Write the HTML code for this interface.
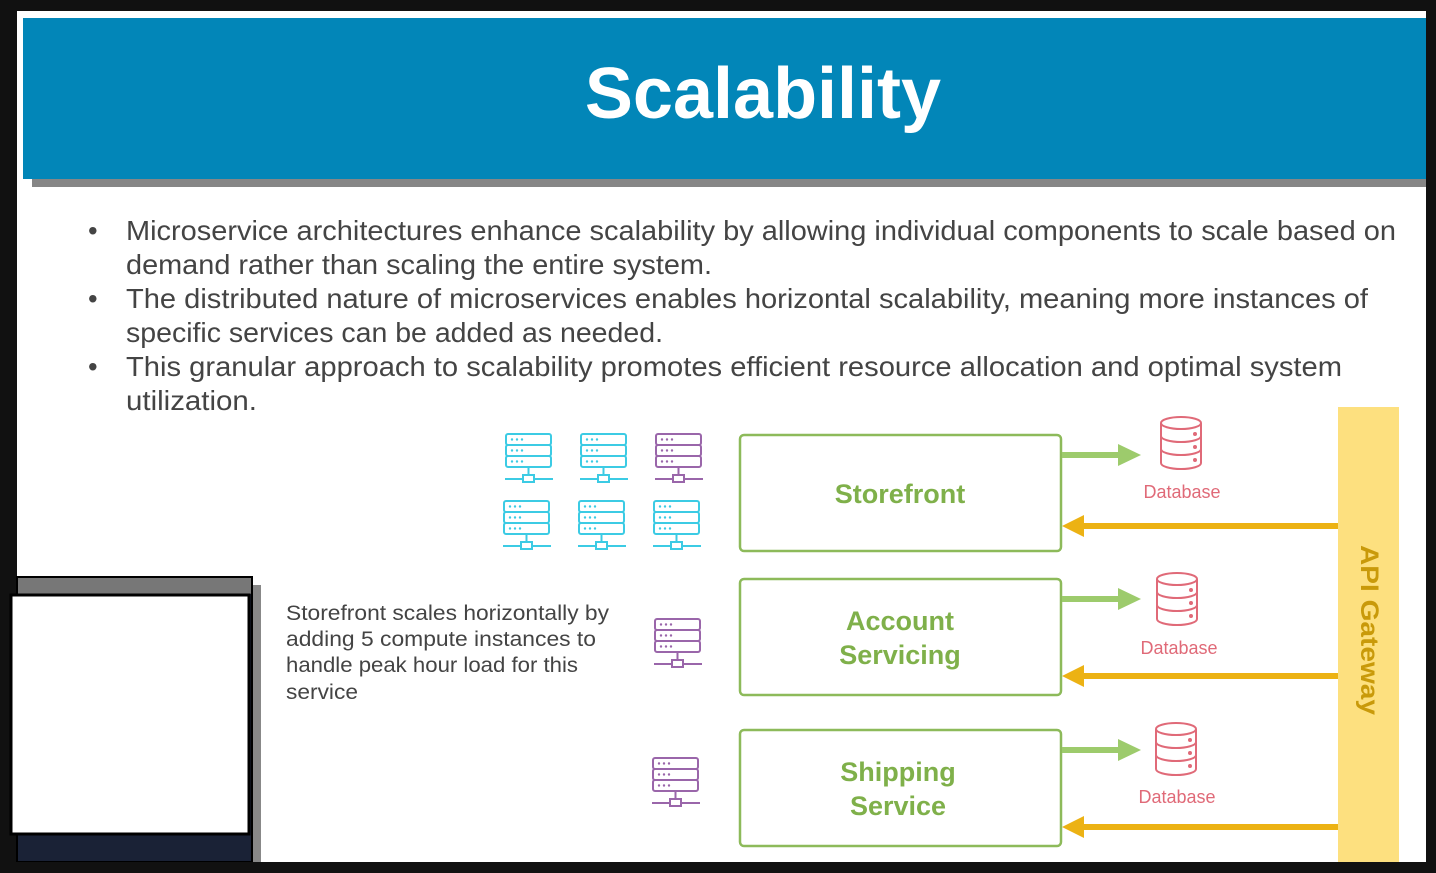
<!DOCTYPE html>
<html><head><meta charset="utf-8"><style>
html,body{margin:0;padding:0;background:#111;}
body{width:1436px;height:873px;overflow:hidden;position:relative;font-family:"Liberation Sans",sans-serif;}
</style></head><body>
<svg width="1436" height="873" viewBox="0 0 1436 873" xmlns="http://www.w3.org/2000/svg" style="position:absolute;left:0;top:0">
<defs>
<g id="srv" fill="none" stroke-width="2">
  <rect x="1" y="1" width="45" height="11" rx="2"/>
  <rect x="1" y="12" width="45" height="11" rx="2"/>
  <rect x="1" y="23" width="45" height="11" rx="2"/>
  <line x1="23.5" y1="34" x2="23.5" y2="42"/>
  <line x1="0" y1="46" x2="48" y2="46"/>
  <rect x="18" y="42" width="11" height="7" fill="#fff"/>
</g>
<g id="dots">
  <circle cx="7" cy="6.5" r="1.2"/><circle cx="12" cy="6.5" r="1.2"/><circle cx="17" cy="6.5" r="1.2"/>
  <circle cx="7" cy="17.5" r="1.2"/><circle cx="12" cy="17.5" r="1.2"/><circle cx="17" cy="17.5" r="1.2"/>
  <circle cx="7" cy="28.5" r="1.2"/><circle cx="12" cy="28.5" r="1.2"/><circle cx="17" cy="28.5" r="1.2"/>
</g>
<g id="db" fill="none" stroke="#e06a78" stroke-width="2">
  <ellipse cx="21" cy="7" rx="20" ry="6"/>
  <path d="M1 7 V47 A20 6 0 0 0 41 47 V7"/>
  <path d="M1 20 A20 6 0 0 0 41 20"/>
  <path d="M1 33 A20 6 0 0 0 41 33"/>
  <circle cx="35" cy="18" r="1" fill="#e06a78"/><circle cx="35" cy="31" r="1" fill="#e06a78"/><circle cx="35" cy="44" r="1" fill="#e06a78"/>
</g>
</defs>
<rect x="17" y="11" width="1409" height="851" fill="#fff"/>
<rect x="32" y="179" width="1394" height="8" fill="#868686"/>
<rect x="23" y="18" width="1403" height="161" fill="#0286b8"/>
<text x="763" y="118" text-anchor="middle" font-size="72" font-weight="bold" fill="#fff">Scalability</text>
<g font-size="27.5" fill="#444" lengthAdjust="spacingAndGlyphs">
<text x="88" y="240">•</text>
<text x="126" y="240" textLength="1270" lengthAdjust="spacingAndGlyphs">Microservice architectures enhance scalability by allowing individual components to scale based on</text>
<text x="126" y="274" textLength="586" lengthAdjust="spacingAndGlyphs">demand rather than scaling the entire system.</text>
<text x="88" y="308">•</text>
<text x="126" y="308" textLength="1242" lengthAdjust="spacingAndGlyphs">The distributed nature of microservices enables horizontal scalability, meaning more instances of</text>
<text x="126" y="342" textLength="537" lengthAdjust="spacingAndGlyphs">specific services can be added as needed.</text>
<text x="88" y="376">•</text>
<text x="126" y="376" textLength="1216" lengthAdjust="spacingAndGlyphs">This granular approach to scalability promotes efficient resource allocation and optimal system</text>
<text x="126" y="410" textLength="131" lengthAdjust="spacingAndGlyphs">utilization.</text>
</g>
<g stroke="#3ccbe4"><use href="#srv" x="505" y="433"/><use href="#srv" x="580" y="433"/><use href="#srv" x="503" y="500"/><use href="#srv" x="578" y="500"/><use href="#srv" x="653" y="500"/></g>
<g fill="#3ccbe4"><use href="#dots" x="505" y="433"/><use href="#dots" x="580" y="433"/><use href="#dots" x="503" y="500"/><use href="#dots" x="578" y="500"/><use href="#dots" x="653" y="500"/></g>
<g stroke="#9a66aa"><use href="#srv" x="655" y="433"/><use href="#srv" x="654" y="618"/><use href="#srv" x="652" y="757"/></g>
<g fill="#9a66aa"><use href="#dots" x="655" y="433"/><use href="#dots" x="654" y="618"/><use href="#dots" x="652" y="757"/></g>
<g font-size="21" fill="#444">
<text x="286" y="620" textLength="323" lengthAdjust="spacingAndGlyphs">Storefront scales horizontally by</text>
<text x="286" y="646" textLength="310" lengthAdjust="spacingAndGlyphs">adding 5 compute instances to</text>
<text x="286" y="672" textLength="292" lengthAdjust="spacingAndGlyphs">handle peak hour load for this</text>
<text x="286" y="699" textLength="72" lengthAdjust="spacingAndGlyphs">service</text>
</g>
<g fill="#fff" stroke="#8dba5a" stroke-width="2.5">
<rect x="740" y="435" width="321" height="116" rx="4"/>
<rect x="740" y="579" width="321" height="116" rx="4"/>
<rect x="740" y="730" width="321" height="116" rx="4"/>
</g>
<g font-size="27" font-weight="bold" fill="#7fb04a" text-anchor="middle">
<text x="900" y="503">Storefront</text>
<text x="900" y="630">Account</text><text x="900" y="664">Servicing</text>
<text x="898" y="781">Shipping</text><text x="898" y="815">Service</text>
</g>
<rect x="1338" y="407" width="61" height="455" fill="#fde07f"/>
<text transform="translate(1361,630) rotate(90)" text-anchor="middle" font-size="25" font-weight="bold" fill="#c99a0a" textLength="170" lengthAdjust="spacingAndGlyphs">API Gateway</text>
<g fill="#9dcb6c">
<rect x="1062" y="452" width="60" height="6"/><polygon points="1118,444 1141,455 1118,466"/>
<rect x="1062" y="596" width="60" height="6"/><polygon points="1118,588 1141,599 1118,610"/>
<rect x="1062" y="747" width="60" height="6"/><polygon points="1118,739 1141,750 1118,761"/>
</g>
<g fill="#ecb214">
<rect x="1080" y="523" width="258" height="6"/><polygon points="1062,526 1084,515 1084,537"/>
<rect x="1080" y="673" width="258" height="6"/><polygon points="1062,676 1084,665 1084,687"/>
<rect x="1080" y="824" width="258" height="6"/><polygon points="1062,827 1084,816 1084,838"/>
</g>
<use href="#db" x="1160" y="416"/><use href="#db" x="1156" y="572"/><use href="#db" x="1155" y="722"/>
<g font-size="18" fill="#e06a78" text-anchor="middle">
<text x="1182" y="498">Database</text><text x="1179" y="654">Database</text><text x="1177" y="803">Database</text>
</g>
<rect x="252" y="585" width="9" height="277" fill="#888"/>
<rect x="17" y="577" width="235" height="285" fill="#1a2236" stroke="#000" stroke-width="2"/>
<rect x="18" y="578" width="233" height="16" fill="#777"/>
<rect x="11" y="595" width="238" height="239" fill="#fff" stroke="#000" stroke-width="3"/>
<rect x="0" y="862" width="1436" height="11" fill="#111"/>
</svg>
</body></html>
